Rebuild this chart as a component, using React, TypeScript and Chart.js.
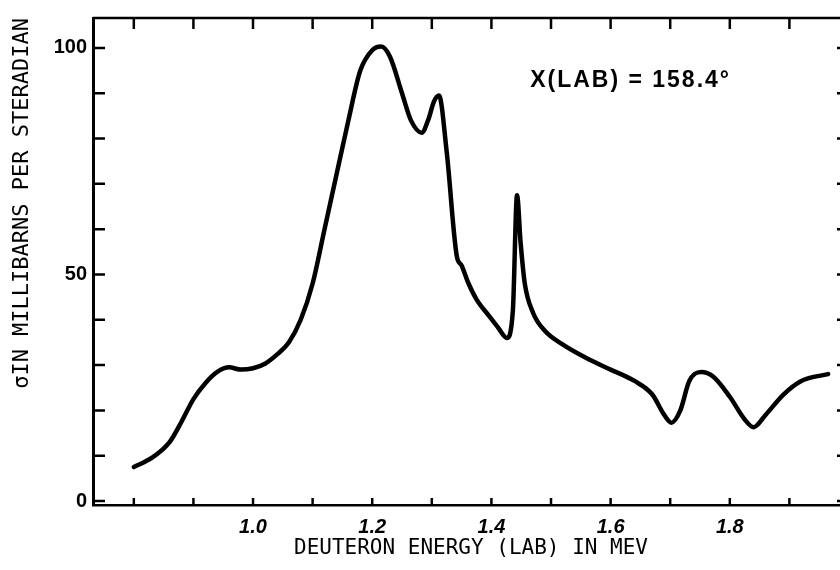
import React, { useEffect, useRef } from 'react';
import { Chart, registerables } from 'chart.js';

Chart.register(...registerables);

// Deuteron energy (MeV, lab)
const energy = [
  0.80, 0.83, 0.86, 0.88, 0.90, 0.92, 0.94, 0.96, 0.98, 1.00,
  1.02, 1.04, 1.06, 1.08, 1.10, 1.12, 1.14, 1.16, 1.18, 1.20,
  1.215, 1.23, 1.25, 1.265, 1.283, 1.295, 1.303, 1.312, 1.325, 1.342,
  1.35, 1.36, 1.375, 1.395, 1.41, 1.426, 1.436, 1.443, 1.449, 1.456,
  1.47, 1.49, 1.52, 1.56, 1.60, 1.64, 1.67, 1.69, 1.702, 1.717,
  1.732, 1.752, 1.772, 1.80, 1.825, 1.84, 1.86, 1.89, 1.92, 1.965,
];
// Cross section (mb/sr)
const sigma = [
  7.5, 9.5, 13, 17.5, 22.5, 26, 28.5, 29.5, 29, 29.3,
  30.3, 32.3, 35, 40, 48, 60, 72, 84, 95, 99.5,
  100.3, 98, 90, 84, 81.3, 84.5, 88, 89.5, 77, 54,
  52, 48.5, 44.5, 41, 38.5, 36, 42, 67.5, 57, 48,
  41.5, 37.5, 34.5, 31.5, 29, 26.5, 23.5, 19, 17.3, 20,
  26.5, 28.5, 27.5, 23, 18, 16.3, 19, 23.5, 26.5, 28,
];

const xTickValues = [0.8, 0.9, 1.0, 1.1, 1.2, 1.3, 1.4, 1.5, 1.6, 1.7, 1.8, 1.9, 2.0];
const xTickLabels = ['1.0', '1.2', '1.4', '1.6', '1.8'];
const yTickValues = [0, 10, 20, 30, 40, 50, 60, 70, 80, 90, 100];
const yTickLabels = ['0', '50', '100'];

const xTitle = 'DEUTERON ENERGY (LAB) IN MEV';
const yTitle = 'σIN MILLIBARNS PER STERADIAN';
const annotationText = 'X(LAB) = 158.4°';
const annotationPos = { x: 1.465, y: 92.8 };

const X_MIN = 0.7315;
const X_MAX = 2.0;
const Y_MIN = -0.88;
const Y_MAX = 106.6;

const framePlugin = {
  id: 'frameTicks',
  afterDraw(chart: any) {
    const { ctx, chartArea, scales } = chart;
    const { left, right, top, bottom } = chartArea;
    const xs = scales.x;
    const ys = scales.y;
    ctx.save();
    ctx.strokeStyle = '#000';
    ctx.lineWidth = 2.5;
    ctx.beginPath();
    ctx.moveTo(left, top);
    ctx.lineTo(right, top);
    ctx.lineTo(right, bottom);
    ctx.stroke();
    ctx.beginPath();
    xTickValues.forEach((v) => {
      const px = xs.getPixelForValue(v);
      ctx.moveTo(px, bottom);
      ctx.lineTo(px, bottom - 7);
      ctx.moveTo(px, top);
      ctx.lineTo(px, top + 11);
    });
    yTickValues.forEach((v) => {
      const py = ys.getPixelForValue(v);
      ctx.moveTo(left, py);
      ctx.lineTo(left + 12, py);
      ctx.moveTo(right - 12, py);
      ctx.lineTo(right, py);
    });
    ctx.stroke();

    ctx.fillStyle = '#000';
    ctx.font = 'bold 23px "Liberation Sans"';
    try { (ctx as any).letterSpacing = '2px'; } catch (e) {}
    ctx.textAlign = 'left';
    ctx.textBaseline = 'middle';
    ctx.fillText(annotationText, xs.getPixelForValue(annotationPos.x), ys.getPixelForValue(annotationPos.y));
    ctx.restore();
  },
};

export default function App() {
  const canvasRef = useRef<HTMLCanvasElement | null>(null);

  useEffect(() => {
    document.body.style.margin = '0';
    const canvas = canvasRef.current;
    if (!canvas) return;
    const chart = new Chart(canvas, {
      type: 'line',
      data: {
        datasets: [
          {
            data: energy.map((e, i) => ({ x: e, y: sigma[i] })),
            borderColor: '#000',
            borderWidth: 4.5,
            pointRadius: 0,
            fill: false,
            cubicInterpolationMode: 'monotone',
            borderCapStyle: 'round',
            borderJoinStyle: 'round',
          },
        ],
      },
      options: {
        animation: false,
        responsive: false,
        devicePixelRatio: 1,
        layout: { padding: { left: 0, right: 11, top: 15, bottom: 0 } },
        plugins: {
          legend: { display: false },
          tooltip: { enabled: false },
        },
        scales: {
          x: {
            type: 'linear',
            min: X_MIN,
            max: X_MAX,
            afterBuildTicks: (s: any) => {
              s.ticks = xTickValues.map((v) => ({ value: v }));
            },
            afterFit: (s: any) => {
              s.height = 65;
            },
            grid: { drawOnChartArea: false, drawTicks: false },
            border: { display: true, color: '#000', width: 2.5 },
            ticks: {
              autoSkip: false,
              maxRotation: 0,
              padding: 10,
              color: '#000',
              font: { family: '"Liberation Sans"', size: 20, weight: 'bold', style: 'italic' },
              callback: (v: any) => {
                const s = (Math.round(Number(v) * 10) / 10).toFixed(1);
                return xTickLabels.includes(s) ? s : '';
              },
            },
            title: {
              display: true,
              text: xTitle,
              color: '#000',
              font: { family: '"DejaVu Sans Mono"', size: 21 },
              padding: { top: 0, bottom: 9 },
            },
          },
          y: {
            type: 'linear',
            min: Y_MIN,
            max: Y_MAX,
            afterBuildTicks: (s: any) => {
              s.ticks = yTickValues.map((v) => ({ value: v }));
            },
            afterFit: (s: any) => {
              s.width = 93;
            },
            grid: { drawOnChartArea: false, drawTicks: false },
            border: { display: true, color: '#000', width: 3 },
            ticks: {
              autoSkip: false,
              padding: 6,
              color: '#000',
              font: { family: '"Liberation Sans"', size: 20, weight: 'bold' },
              callback: (v: any) => {
                const s = String(Math.round(Number(v)));
                return yTickLabels.includes(s) ? s : '';
              },
            },
            title: {
              display: true,
              text: yTitle,
              align: 'end',
              color: '#000',
              font: { family: '"DejaVu Sans Mono"', size: 22 },
              padding: { top: 9, bottom: 0 },
            },
          },
        },
      } as any,
      plugins: [framePlugin],
    });
    return () => chart.destroy();
  }, []);

  return (
    <div style={{ width: 840, height: 570, overflow: 'hidden', background: '#fff' }}>
      <canvas ref={canvasRef} width={860} height={570} style={{ display: 'block' }} />
    </div>
  );
}
